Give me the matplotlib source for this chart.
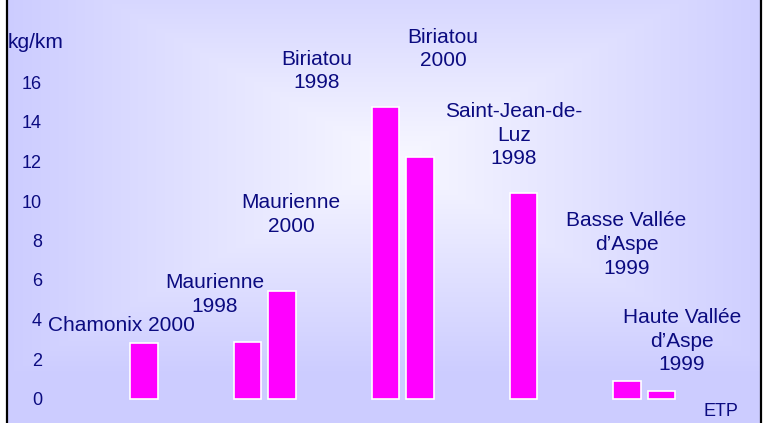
import numpy as np
import matplotlib
matplotlib.use("Agg")
import matplotlib.pyplot as plt
from matplotlib.lines import Line2D

# ---- data ----
bar_names = ["Chamonix 2000", "Maurienne 1998", "Maurienne 2000", "Biriatou 1998",
             "Biriatou 2000", "Saint-Jean-de-Luz 1998", "Basse Vallée d’Aspe 1999",
             "Haute Vallée d’Aspe 1999"]
values = [2.79, 2.88, 5.44, 14.77, 12.24, 10.39, 0.89, 0.38]
y_ticks = [0, 2, 4, 6, 8, 10, 12, 14, 16]
labels = ["Chamonix 2000", "Maurienne\n1998", "Maurienne\n2000", "Biriatou\n1998",
          "Biriatou\n2000", "Saint-Jean-de-\nLuz\n1998", "Basse Vallée\nd’Aspe\n1999",
          "Haute Vallée\nd’Aspe\n1999"]

# ---- layout (slot positions along x, label anchor points) ----
slots = [4, 7, 8, 11, 12, 15, 18, 19]
label_pos = [(3.333, 3.72), (6.058, 5.27), (8.261, 9.32), (9.014, 16.58),
             (12.667, 17.70), (14.725, 13.34), (17.986, 7.80), (19.586, 2.91)]

W, H = 765, 423
FONT = "Liberation Sans"
TXT = "#0b0b80"

fig = plt.figure(figsize=(W / 100, H / 100), dpi=100)

# background gradient
bg = fig.add_axes([0, 0, 1, 1])
bg.axis("off")
yy, xx = np.mgrid[0:H, 0:W]
t = np.maximum(np.abs(xx - 395) / 390.0, np.abs(yy - 160) / 215.0)
t = np.clip(t, 0, 1)
center = np.array([248, 248, 255]) / 255.0
outer = np.array([204, 204, 255]) / 255.0
img = center + (outer - center) * t[..., None]
bg.imshow(img, extent=[0, W, H, 0], aspect="auto", interpolation="bilinear")
bg.set_xlim(0, W)
bg.set_ylim(H, 0)

ax = fig.add_axes([0, 0, 1, 1])
ax.patch.set_alpha(0)
for s in ax.spines.values():
    s.set_visible(False)

ax.bar(slots, values, 0.81, color="#FF00FF", edgecolor="white", linewidth=1.2)

ax.set_xlim(-6 / 34.5, (W - 6) / 34.5)
ax.set_ylim(-24.5 / 19.75, 398.5 / 19.75)
ax.set_xticks([])
ax.set_yticks(y_ticks)
ax.set_yticklabels([str(v) for v in y_ticks], fontsize=13, color=TXT, family=FONT)
ax.tick_params(axis="y", length=0, pad=-30.2)

for lab, (lx, ly) in zip(labels, label_pos):
    ax.text(lx, ly, lab, ha="center", va="center", fontsize=15, color=TXT,
            family=FONT, linespacing=1.32, multialignment="center")

ax.text(8 / W, 1 - 43 / H, "kg/km", transform=ax.transAxes, ha="left", va="center",
        fontsize=15, color=TXT, family=FONT)
ax.text(721 / W, 1 - 411.5 / H, "ETP", transform=ax.transAxes, ha="center", va="center",
        fontsize=13, color=TXT, family=FONT)

# frame pieces (white margin + black side lines)
fig.patches.append(plt.Rectangle((0, 0), 6 / W, 1, transform=fig.transFigure,
                                 color="white", zorder=10))
fig.patches.append(plt.Rectangle((762 / W, 0), 3 / W, 1, transform=fig.transFigure,
                                 color="white", zorder=10))
fig.add_artist(Line2D([7 / W, 7 / W], [0, 1], transform=fig.transFigure,
                      color="black", linewidth=1.6, zorder=11))
fig.add_artist(Line2D([761 / W, 761 / W], [0, 1], transform=fig.transFigure,
                      color="black", linewidth=1.6, zorder=11))

fig.savefig("out.png", dpi=100)
